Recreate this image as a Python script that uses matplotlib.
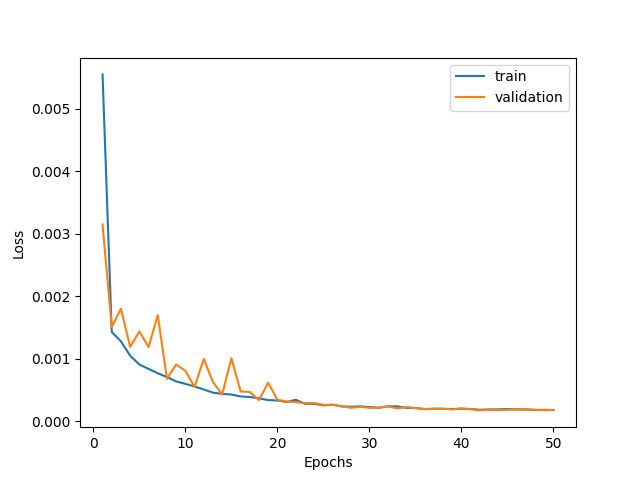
import numpy as np
import matplotlib
matplotlib.use('Agg')
import matplotlib.pyplot as plt

epochs = np.arange(1, 51)

# loss values (units of 1e-3)
train = [5.55, 1.43, 1.28, 1.05, 0.91, 0.84, 0.77, 0.71, 0.64, 0.60,
         0.56, 0.51, 0.46, 0.44, 0.43, 0.40, 0.39, 0.37, 0.34, 0.335,
         0.31, 0.346, 0.282, 0.282, 0.256, 0.266, 0.240, 0.234, 0.240, 0.229,
         0.218, 0.240, 0.240, 0.218, 0.213, 0.197, 0.202, 0.202, 0.197, 0.202,
         0.197, 0.186, 0.192, 0.192, 0.197, 0.192, 0.192, 0.186, 0.181, 0.181]
validation = [3.15, 1.51, 1.80, 1.19, 1.44, 1.19, 1.70, 0.68, 0.91, 0.81,
              0.55, 1.00, 0.63, 0.43, 1.01, 0.48, 0.47, 0.34, 0.62, 0.346,
              0.319, 0.309, 0.293, 0.293, 0.266, 0.266, 0.240, 0.218, 0.234, 0.218,
              0.218, 0.240, 0.208, 0.229, 0.213, 0.197, 0.202, 0.202, 0.192, 0.208,
              0.197, 0.176, 0.186, 0.181, 0.186, 0.192, 0.186, 0.181, 0.186, 0.181]

train = np.array(train) * 1e-3
validation = np.array(validation) * 1e-3

plt.figure(figsize=(6.4, 4.8), dpi=100)
plt.plot(epochs, train, label='train')
plt.plot(epochs, validation, label='validation')
plt.xlabel('Epochs')
plt.ylabel('Loss')
plt.legend()
plt.savefig('out.png')
